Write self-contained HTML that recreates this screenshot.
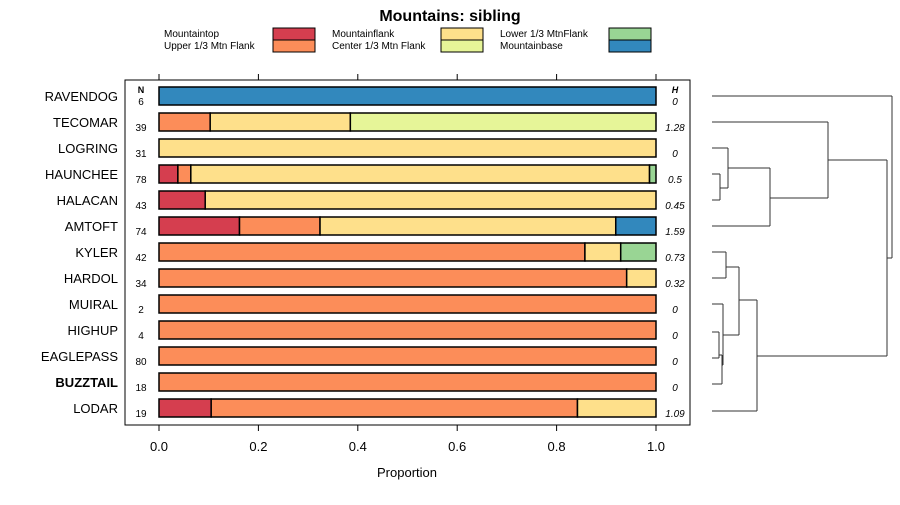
<!DOCTYPE html>
<html><head><meta charset="utf-8"><style>
body{margin:0;background:#fff;font-family:"Liberation Sans",sans-serif}
</style></head><body>
<svg id="c" width="900" height="500" xmlns="http://www.w3.org/2000/svg" font-family="Liberation Sans, sans-serif">
<text x="450" y="21" text-anchor="middle" font-size="16" font-weight="bold">Mountains: sibling</text>
<g id="legend"></g>
<rect x="125" y="80" width="565" height="345" fill="none" stroke="#000"/>
<g id="bars"></g><g id="axis"></g><g id="dend"></g>
<text x="407" y="477" text-anchor="middle" font-size="13">Proportion</text>
<text x="141" y="93" text-anchor="middle" font-size="9" font-weight="bold">N</text>
<text x="675" y="93" text-anchor="middle" font-size="9" font-weight="bold" font-style="italic">H</text>
</svg>
<script>
const NS="http://www.w3.org/2000/svg";
const categories=["RAVENDOG","TECOMAR","LOGRING","HAUNCHEE","HALACAN","AMTOFT","KYLER","HARDOL","MUIRAL","HIGHUP","EAGLEPASS","BUZZTAIL","LODAR"];
const nValues=[6,39,31,78,43,74,42,34,2,4,80,18,19];
const hValues=["0","1.28","0","0.5","0.45","1.59","0.73","0.32","0","0","0","0","1.09"];
const classNames=["Mountaintop","Upper 1/3 Mtn Flank","Mountainflank","Center 1/3 Mtn Flank","Lower 1/3 MtnFlank","Mountainbase"];
const colors=["#d53e4f","#fc8d59","#fee08b","#e6f598","#99d594","#3288bd"];
// proportions per class [top, upper, flank, center, lower, base]
const propTop=[0,0,0,0.038,0.093,0.162,0,0,0,0,0,0,0.105];
const propUpper=[0,0.103,0,0.026,0,0.162,0.857,0.941,1,1,1,1,0.737];
const propFlank=[0,0.282,1,0.923,0.907,0.595,0.072,0.059,0,0,0,0,0.158];
const propCenter=[0,0.615,0,0,0,0,0,0,0,0,0,0,0];
const propLower=[0,0,0,0.013,0,0,0.071,0,0,0,0,0,0];
const propBase=[1,0,0,0,0,0.081,0,0,0,0,0,0,0];
const ticks=[0,0.2,0.4,0.6,0.8,1.0];
const tickLabels=["0.0","0.2","0.4","0.6","0.8","1.0"];
const series=[propTop,propUpper,propFlank,propCenter,propLower,propBase];
const X=v=>159+v*497, Y=i=>96+i*26;
function mk(t,a,p){const e=document.createElementNS(NS,t);for(const k in a)e.setAttribute(k,a[k]);p.appendChild(e);return e;}
const bars=document.getElementById('bars');
categories.forEach((c,i)=>{
  let acc=0;
  series.forEach((s,k)=>{const v=s[i];if(v>0){
    const r=mk('rect',{x:X(acc),y:Y(i)-9,width:X(acc+v)-X(acc),height:18,fill:colors[k],stroke:'#000','stroke-width':1.5},bars);
    
    
    acc+=v;}});
  const t=mk('text',{x:118,y:Y(i)+5,'text-anchor':'end','font-size':13,'font-weight':c==="BUZZTAIL"?'bold':'normal'},bars);t.textContent=c;
  
  
  const n=mk('text',{x:141,y:Y(i)+9,'text-anchor':'middle','font-size':10},bars);n.textContent=nValues[i];
  
  
  const h=mk('text',{x:675,y:Y(i)+9,'text-anchor':'middle','font-size':10,'font-style':'italic'},bars);h.textContent=hValues[i];
  
  
});
const ax=document.getElementById('axis');
ticks.forEach((v,i)=>{
  mk('line',{x1:X(v),x2:X(v),y1:425,y2:431,stroke:'#000'},ax);
  mk('line',{x1:X(v),x2:X(v),y1:80,y2:74,stroke:'#000'},ax);
  const t=mk('text',{x:X(v),y:451,'text-anchor':'middle','font-size':13},ax);t.textContent=tickLabels[i];
  
  
});
const lg=document.getElementById('legend');
classNames.forEach((n,k)=>{
  const col=Math.floor(k/2),row=k%2,x0=164+col*168,y0=28+row*12;
  const t=mk('text',{x:x0,y:y0+9,'font-size':10},lg);t.textContent=n;
  
  
  mk('rect',{x:x0+109,y:y0,width:42,height:12,fill:colors[k],stroke:'#000'},lg);
});
const d=document.getElementById('dend');
const segs=[[712,96,892,96],[892,96,892,258],[887,258,892,258],
[712,122,828,122],[828,122,828,198],[770,198,828,198],[828,160,887,160],[887,160,887,356],
[712,148,728,148],[728,148,728,188],[712,174,720,174],[712,200,720,200],[720,174,720,200],[720,188,728,188],
[728,168,770,168],[770,168,770,226],[712,226,770,226],
[712,252,726,252],[712,278,726,278],[726,252,726,278],[726,267,739,267],[739,267,739,335],[723,335,739,335],
[712,304,723,304],[723,304,723,365],[712,332,719,332],[712,358,719,358],[719,332,719,358],[719,355,722,355],[722,355,722,384],[712,384,722,384],[722,365,723,365],
[739,300,757,300],[757,300,757,411],[712,411,757,411],[757,356,887,356]];
segs.forEach(s=>mk('line',{x1:s[0],y1:s[1],x2:s[2],y2:s[3],stroke:'#333','stroke-width':1},d));
</script>
</body></html>
